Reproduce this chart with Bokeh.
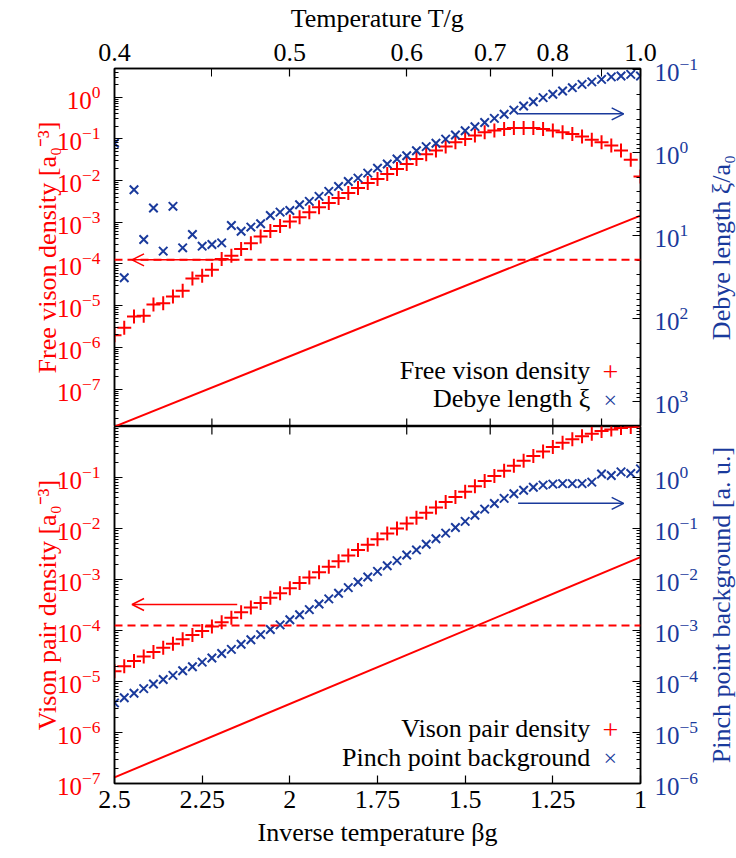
import math
from bokeh.plotting import figure
from bokeh.models import (Range1d, LogScale, LogAxis, LinearAxis, FixedTicker,
                          CustomJSTickFormatter, Span, Arrow, OpenHead, Label)
from bokeh.core.properties import value
from bokeh.layouts import column, row
from bokeh.embed import file_html
from bokeh.resources import INLINE

# ---------------- data ----------------
beta = [2.5, 2.4722, 2.4444, 2.4167, 2.3889, 2.3611, 2.3333, 2.3056, 2.2778, 2.25,
        2.2222, 2.1944, 2.1667, 2.1389, 2.1111, 2.0833, 2.0556, 2.0278, 2.0, 1.9722,
        1.9444, 1.9167, 1.8889, 1.8611, 1.8333, 1.8056, 1.7778, 1.75, 1.7222, 1.6944,
        1.6667, 1.6389, 1.6111, 1.5833, 1.5556, 1.5278, 1.5, 1.4722, 1.4444, 1.4167,
        1.3889, 1.3611, 1.3333, 1.3056, 1.2778, 1.25, 1.2222, 1.1944, 1.1667, 1.1389,
        1.1111, 1.0833, 1.0556, 1.0278, 1.0]

# log10 of free vison density [a0^-3]
free_density_log10 = [-5.71, -5.53, -5.26, -5.24, -4.97, -4.94, -4.78, -4.64, -4.35, -4.28,
                      -4.14, -3.88, -3.80, -3.64, -3.50, -3.34, -3.21, -3.09, -2.98, -2.88,
                      -2.76, -2.64, -2.54, -2.42, -2.30, -2.18, -2.06, -1.96, -1.84, -1.72,
                      -1.60, -1.48, -1.37, -1.28, -1.18, -1.08, -1.00, -0.92, -0.84, -0.80,
                      -0.76, -0.74, -0.74, -0.74, -0.76, -0.80, -0.84, -0.88, -0.94, -1.02,
                      -1.08, -1.16, -1.28, -1.50, -1.90]

# log10 of Debye length xi / a0
debye_log10 = [-0.11, 1.51, 0.45, 1.05, 0.67, 1.19, 0.65, 1.15, 0.99, 1.13,
               1.11, 1.09, 0.88, 0.95, 0.90, 0.86, 0.76, 0.72, 0.70, 0.63,
               0.59, 0.53, 0.47, 0.41, 0.35, 0.31, 0.25, 0.19, 0.14, 0.08,
               0.04, -0.02, -0.07, -0.11, -0.16, -0.21, -0.26, -0.31, -0.36, -0.41,
               -0.46, -0.51, -0.56, -0.61, -0.66, -0.70, -0.74, -0.78, -0.82, -0.85,
               -0.88, -0.91, -0.92, -0.94, -0.92]

# log10 of vison pair density [a0^-3]
pair_density_log10 = [-4.80, -4.70, -4.60, -4.51, -4.42, -4.34, -4.26, -4.17, -4.09, -4.01,
                      -3.92, -3.84, -3.75, -3.64, -3.55, -3.46, -3.36, -3.27, -3.17, -3.07,
                      -2.96, -2.86, -2.75, -2.64, -2.53, -2.42, -2.32, -2.21, -2.10, -2.00,
                      -1.90, -1.79, -1.69, -1.59, -1.48, -1.38, -1.28, -1.17, -1.07, -0.97,
                      -0.87, -0.77, -0.67, -0.58, -0.49, -0.40, -0.32, -0.25, -0.19, -0.14,
                      -0.09, -0.06, -0.03, -0.01, 0.00]

# log10 of pinch point background [a. u.]
pinch_log10 = [-4.42, -4.32, -4.23, -4.14, -4.05, -3.96, -3.88, -3.79, -3.71, -3.62,
               -3.54, -3.45, -3.37, -3.27, -3.18, -3.08, -2.98, -2.89, -2.79, -2.69,
               -2.59, -2.48, -2.38, -2.27, -2.16, -2.05, -1.95, -1.84, -1.73, -1.63,
               -1.52, -1.42, -1.31, -1.20, -1.09, -0.98, -0.86, -0.74, -0.62, -0.51,
               -0.41, -0.32, -0.25, -0.19, -0.15, -0.13, -0.12, -0.12, -0.12, -0.09,
               0.07, 0.04, 0.11, 0.08, 0.17]

# reference straight lines (activated behaviour) and threshold levels
line_beta = [2.5, 1.0]
free_line = [1.26e-8, 1.45e-3]
pair_line = [1.32e-7, 2.75e-3]
threshold_level = 1.26e-4

# axis tick values
temp_tick_labels = [0.4, 0.5, 0.6, 0.7, 0.8, 1.0]
temp_tick_minor = [0.45, 0.9]
beta_ticks = [2.5, 2.25, 2.0, 1.75, 1.5, 1.25, 1.0]

# ---------------- styling ----------------
FONT = "Liberation Serif"
RED = "#ff0000"
BLUE = "#1a3a9c"
FS = "26px"
TFS = "25px"

free_density = [10 ** v for v in free_density_log10]
debye = [10 ** v for v in debye_log10]
pair_density = [10 ** v for v in pair_density_log10]
pinch = [10 ** v for v in pinch_log10]

x_range = Range1d(2.5, 1.0)
temp_beta_all = [1 / t for t in temp_tick_labels + temp_tick_minor]

TOP_LO, TOP_HI = 10 ** -7.897, 10 ** 0.688
XI_LO, XI_HI = 10 ** 3.303, 10 ** -1.011
BOT_LO, BOT_HI = 1e-7, 1e0


def base_fig(frame_h, top, bottom, yr):
    p = figure(frame_width=526, frame_height=frame_h, x_range=x_range, y_range=yr,
               y_axis_type="log", x_axis_location=None, y_axis_location=None,
               toolbar_location=None, output_backend="svg",
               min_border_left=114, min_border_right=66,
               min_border_top=top, min_border_bottom=bottom)
    p.grid.grid_line_color = None
    p.outline_line_color = "black"
    p.outline_line_width = 1.5
    p.background_fill_color = "white"
    p.border_fill_color = "white"
    return p


def title_strip(frame_h, top, bottom, text):
    # narrow strip holding the right-hand axis title, reading bottom to top
    t = figure(frame_width=30, frame_height=frame_h, x_range=Range1d(0, 1), y_range=Range1d(0, 1),
               x_axis_location=None, y_axis_location=None, toolbar_location=None,
               output_backend="svg", min_border_left=0, min_border_right=0,
               min_border_top=top, min_border_bottom=bottom)
    t.grid.grid_line_color = None
    t.outline_line_color = None
    t.text(x=[0.5], y=[0.5], text=[text], angle=math.pi / 2, text_align="center",
           text_baseline="middle", text_font=value(FONT), text_font_size=value(FS),
           text_color=BLUE)
    return t


def style(ax, label_color="black"):
    ax.axis_line_color = "black"
    ax.axis_line_width = 1.5
    ax.major_tick_line_color = "black"
    ax.minor_tick_line_color = "black"
    ax.major_tick_line_width = 1.2
    ax.minor_tick_line_width = 1.0
    ax.major_tick_in = 8
    ax.major_tick_out = 0
    ax.minor_tick_in = 4
    ax.minor_tick_out = 0
    ax.major_label_text_font = FONT
    ax.major_label_text_font_size = TFS
    ax.major_label_text_color = label_color
    ax.axis_label_text_font = FONT
    ax.axis_label_text_font_size = FS
    ax.axis_label_text_font_style = "normal"
    ax.axis_label_text_color = label_color


def log_ticker(label_lo, label_hi, minor_lo, minor_hi):
    majors = [10.0 ** e for e in range(label_lo, label_hi + 1)]
    minors = [m * 10.0 ** e for e in range(minor_lo, minor_hi) for m in range(2, 10)]
    return FixedTicker(ticks=majors, minor_ticks=minors)


# ---------------- top panel ----------------
p1 = base_fig(358, 68, 0, Range1d(TOP_LO, TOP_HI))
p1.extra_y_ranges = {"xi": Range1d(XI_LO, XI_HI)}
p1.extra_y_scales = {"xi": LogScale()}

ax = LogAxis(ticker=log_ticker(-7, 0, -8, 1))
style(ax, RED)
ax.major_label_standoff = 14
ax.axis_label = "Free vison density [a₀⁻³]"
ax.axis_label_standoff = -8
p1.add_layout(ax, "left")

ax = LogAxis(y_range_name="xi", ticker=log_ticker(-1, 3, -2, 4))
style(ax, BLUE)
ax.major_label_standoff = 14
p1.add_layout(ax, "right")

ax = LinearAxis(ticker=FixedTicker(ticks=[1 / t for t in temp_tick_labels],
                                   minor_ticks=[1 / t for t in temp_tick_minor]),
                formatter=CustomJSTickFormatter(code="return (1/tick).toFixed(1);"))
style(ax)
ax.minor_tick_in = 8
ax.major_label_text_font_size = FS
ax.major_label_standoff = 8
ax.axis_label = "Temperature T/g"
ax.axis_label_standoff = 8
p1.add_layout(ax, "above")

# temperature ticks on the lower edge of the top panel
n_t = len(temp_beta_all)
p1.segment(x0=temp_beta_all, x1=temp_beta_all, y0=[TOP_LO] * n_t,
           y1=[TOP_LO * 10 ** 0.19] * n_t, line_color="black", line_width=1.2)

p1.line(line_beta, free_line, line_color=RED, line_width=2)
p1.add_layout(Span(location=threshold_level, dimension="width", line_color=RED,
                   line_width=2, line_dash="8 5"))
p1.scatter(beta, free_density, marker="cross", size=14, line_width=2, color=RED)
p1.scatter(beta, debye, marker="x", size=12, line_width=2, color=BLUE, y_range_name="xi")

p1.add_layout(Arrow(end=OpenHead(size=12, line_color=RED, line_width=1.5),
                    x_start=2.15, y_start=threshold_level, x_end=2.45, y_end=threshold_level,
                    line_color=RED, line_width=1.5))
p1.add_layout(Arrow(end=OpenHead(size=12, line_color=BLUE, line_width=1.5),
                    x_start=1.349, y_start=0.343, x_end=1.048, y_end=0.343,
                    line_color=BLUE, line_width=1.5, y_range_name="xi"))

for txt, yy in [("Free vison density", 10 ** -6.554), ("Debye length ξ", 10 ** -7.225)]:
    p1.add_layout(Label(x=1.143, y=yy, text=txt, text_align="right", text_baseline="middle",
                        text_font=FONT, text_font_size=FS, text_color="black"))
p1.add_layout(Label(x=1.086, y=10 ** -6.60, text="+", text_align="center", text_baseline="middle",
                    text_font=FONT, text_font_size="28px", text_color=RED))
p1.add_layout(Label(x=1.086, y=10 ** -7.27, text="×", text_align="center", text_baseline="middle",
                    text_font=FONT, text_font_size="24px", text_color=BLUE))

t1 = title_strip(358, 68, 0, "Debye length ξ/a₀")

# ---------------- bottom panel ----------------
p2 = base_fig(357, 0, 75, Range1d(BOT_LO, BOT_HI))
p2.extra_y_ranges = {"pp": Range1d(1e-6, 1e1)}
p2.extra_y_scales = {"pp": LogScale()}

ax = LogAxis(ticker=log_ticker(-7, -1, -7, 0))
style(ax, RED)
ax.major_label_standoff = 14
ax.axis_label = "Vison pair density [a₀⁻³]"
ax.axis_label_standoff = -8
p2.add_layout(ax, "left")

ax = LogAxis(y_range_name="pp", ticker=log_ticker(-6, 0, -6, 1))
style(ax, BLUE)
ax.major_label_standoff = 14
p2.add_layout(ax, "right")

# temperature ticks on the upper edge of the bottom panel
p2.segment(x0=temp_beta_all, x1=temp_beta_all, y0=[BOT_HI] * n_t,
           y1=[BOT_HI * 10 ** -0.157] * n_t, line_color="black", line_width=1.2)

ax = LinearAxis(ticker=FixedTicker(ticks=beta_ticks, minor_ticks=[]),
                formatter=CustomJSTickFormatter(code="return String(Math.round(tick*100)/100);"))
style(ax)
ax.major_label_text_font_size = FS
ax.major_label_standoff = 7
ax.axis_label = "Inverse temperature βg"
ax.axis_label_standoff = 7
p2.add_layout(ax, "below")

p2.line(line_beta, pair_line, line_color=RED, line_width=2)
p2.add_layout(Span(location=threshold_level, dimension="width", line_color=RED,
                   line_width=2, line_dash="8 5"))
p2.scatter(beta, pair_density, marker="cross", size=14, line_width=2, color=RED)
p2.scatter(beta, pinch, marker="x", size=12, line_width=2, color=BLUE, y_range_name="pp")

p2.add_layout(Arrow(end=OpenHead(size=12, line_color=RED, line_width=1.5),
                    x_start=2.15, y_start=3.24e-4, x_end=2.45, y_end=3.24e-4,
                    line_color=RED, line_width=1.5))
p2.add_layout(Arrow(end=OpenHead(size=12, line_color=BLUE, line_width=1.5),
                    x_start=1.349, y_start=0.311, x_end=1.048, y_end=0.311,
                    line_color=BLUE, line_width=1.5, y_range_name="pp"))

for txt, yy in [("Vison pair density", 10 ** -5.92), ("Pinch point background", 10 ** -6.484)]:
    p2.add_layout(Label(x=1.143, y=yy, text=txt, text_align="right", text_baseline="middle",
                        text_font=FONT, text_font_size=FS, text_color="black"))
p2.add_layout(Label(x=1.086, y=10 ** -5.96, text="+", text_align="center", text_baseline="middle",
                    text_font=FONT, text_font_size="28px", text_color=RED))
p2.add_layout(Label(x=1.086, y=10 ** -6.50, text="×", text_align="center", text_baseline="middle",
                    text_font=FONT, text_font_size="24px", text_color=BLUE))

t2 = title_strip(357, 0, 75, "Pinch point background [a. u.]")

layout = column(row(p1, t1, spacing=0), row(p2, t2, spacing=0), spacing=0)
open("out.html", "w").write(file_html(layout, INLINE))
